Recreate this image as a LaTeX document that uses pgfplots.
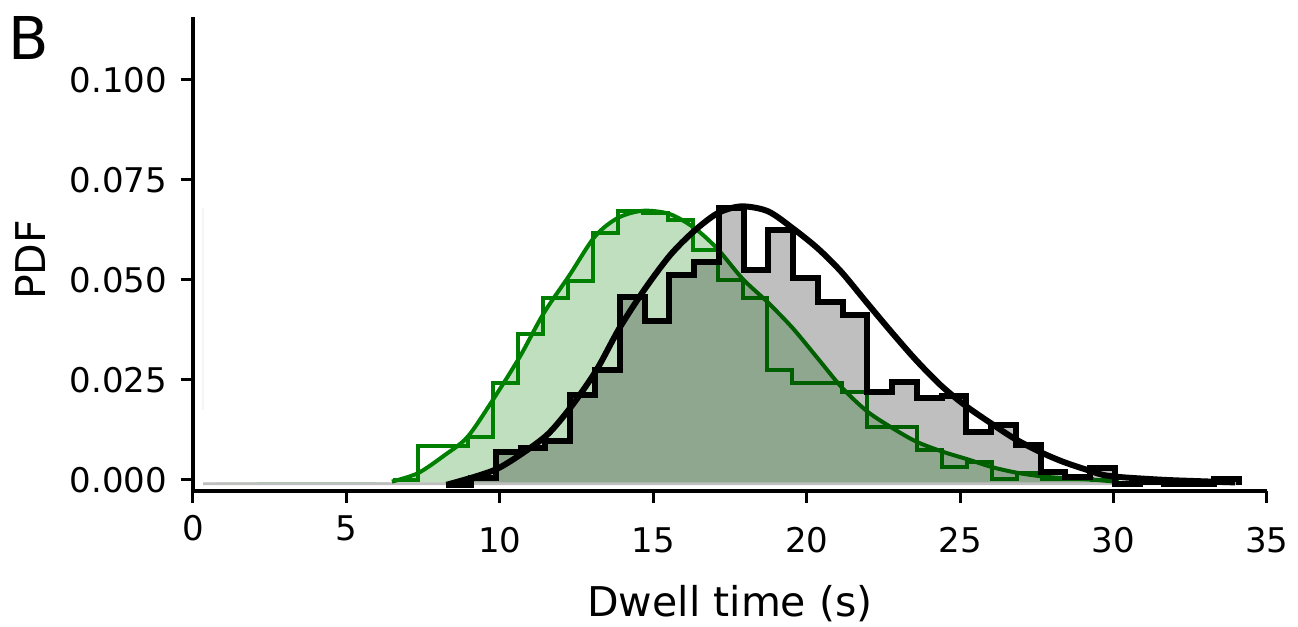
\documentclass[border=0pt]{standalone}
\usepackage{fontspec}
\setmainfont{DejaVu Sans}
\usepackage{pgfplots}
\pgfplotsset{compat=1.18}
\definecolor{mplgreen}{RGB}{0,128,0}
\begin{document}
\begin{tikzpicture}
\useasboundingbox (0pt,0pt) rectangle (649pt,313.5pt);
\begin{axis}[
  at={(96.5pt,68pt)}, anchor=south west,
  scale only axis, width=537pt, height=237pt,
  xmin=0, xmax=35, ymin=-0.00275, ymax=0.11575,
  axis x line=bottom, axis y line=left,
  axis line style={-, line width=1.6pt, black},
  tick align=outside, major tick length=6pt,
  every tick/.style={black, line width=1.5pt},
  xtick={0,5,10,15,20,25,30,35},
  xticklabels={\raisebox{5.85pt}{0},\raisebox{5.85pt}{5},10,15,20,25,30,35},
  ytick={0,0.025,0.05,0.075,0.1},
  yticklabels={0.000,0.025,0.050,0.075,0.100},
  scaled y ticks=false,
  /pgf/number format/assume math mode=true,
  tick label style={font=\fontsize{17}{20}\selectfont},
  xticklabel style={anchor=base, inner sep=0pt, yshift=-24.6pt},
  yticklabel style={anchor=east, inner sep=0pt, xshift=-6.75pt},
  xlabel={Dwell time (s)},
  xlabel style={at={(axis description cs:0.5,-0.238)}, anchor=center, font=\fontsize{20.5}{24}\selectfont},
  ylabel={PDF},
  ylabel style={at={(axis description cs:-0.1508,0.4873)}, anchor=center, font=\fontsize{20.5}{24}\selectfont},
]
% faint artefact line
\addplot[black!4, line width=1pt, forget plot] coordinates {(0.33,0.0175) (0.33,0.068)};
% green fill under fitted curve
\addplot[fill=mplgreen, fill opacity=0.25, draw=none, smooth, tension=0.5] coordinates {
(0.33,-0.0006) (6.48,-0.0006) (7.33,0.0017) (8.20,0.0062) (8.95,0.0108) (9.77,0.0200)
(10.65,0.0308) (11.43,0.0417) (12.27,0.0512) (13.09,0.0608) (13.84,0.0655) (14.65,0.0673)
(15.53,0.0665) (16.34,0.0630) (17.09,0.0578) (17.91,0.0503) (18.72,0.0445) (19.54,0.0380)
(20.35,0.0305) (21.16,0.0230) (21.98,0.0171) (22.79,0.0130) (23.57,0.0096) (24.42,0.0071)
(25.23,0.0052) (26.05,0.0032) (26.86,0.0018) (27.67,0.0009) (28.49,0.0004) (29.30,0.0001)
(30.02,-0.0004) (34.0,-0.0006)};
% green histogram
\addplot[mplgreen, line width=2pt, const plot, line join=miter] coordinates {
(6.512,0.0000) (7.326,0.0086) (8.140,0.0086) (8.954,0.0108) (9.768,0.0242) (10.582,0.0364)
(11.396,0.0454) (12.210,0.0498) (13.024,0.0617) (13.838,0.0673) (14.652,0.0668) (15.466,0.0650)
(16.280,0.0575) (17.094,0.0500) (17.908,0.0454) (18.722,0.0275) (19.536,0.0242) (20.350,0.0242)
(21.164,0.0221) (21.978,0.0133) (22.792,0.0133) (23.606,0.0075) (24.420,0.0033) (25.234,0.0045)
(26.048,0.0003) (26.862,0.0017) (27.676,0.0003) (28.490,0.0002) (29.304,0.0001) (30.118,0.0000)};
% green fitted curve
\addplot[mplgreen, line width=2pt, smooth, tension=0.5] coordinates {
(6.48,-0.0004) (7.33,0.0017) (8.20,0.0062) (8.95,0.0108) (9.77,0.0200)
(10.65,0.0308) (11.43,0.0417) (12.27,0.0512) (13.09,0.0608) (13.84,0.0655) (14.65,0.0673)
(15.53,0.0665) (16.34,0.0630) (17.09,0.0578) (17.91,0.0503) (18.72,0.0445) (19.54,0.0380)
(20.35,0.0305) (21.16,0.0230) (21.98,0.0171) (22.79,0.0130) (23.57,0.0096) (24.42,0.0071)
(25.23,0.0052) (26.05,0.0032) (26.86,0.0018) (27.67,0.0009) (28.49,0.0004) (29.30,0.0001)
(30.02,-0.0004)};
% grey fill under black histogram
\addplot[fill=black, fill opacity=0.25, draw=none, const plot] coordinates {
(0.33,-0.0013) (0.33,-0.0006)
(8.260,-0.0012) (9.067,0.0004) (9.874,0.0069) (10.680,0.0080) (11.487,0.0098) (12.294,0.0212)
(13.101,0.0275) (13.908,0.0458) (14.714,0.0398) (15.521,0.0513) (16.328,0.0546) (17.135,0.0680)
(17.942,0.0526) (18.748,0.0625) (19.555,0.0504) (20.362,0.0446) (21.169,0.0413) (21.976,0.0221)
(22.782,0.0246) (23.589,0.0204) (24.396,0.0210) (25.203,0.0121) (26.010,0.0138) (26.816,0.0088)
(27.623,0.0021) (28.430,0.0008) (29.237,0.0031) (30.044,-0.0010) (30.850,-0.0004) (31.657,-0.0009)
(32.464,-0.0009) (33.271,0.0003) (34.078,-0.0013)};
% black histogram
\addplot[black, line width=3pt, const plot, line join=miter] coordinates {
(8.260,-0.0012) (9.067,0.0004) (9.874,0.0069) (10.680,0.0080) (11.487,0.0098) (12.294,0.0212)
(13.101,0.0275) (13.908,0.0458) (14.714,0.0398) (15.521,0.0513) (16.328,0.0546) (17.135,0.0680)
(17.942,0.0526) (18.748,0.0625) (19.555,0.0504) (20.362,0.0446) (21.169,0.0413) (21.976,0.0221)
(22.782,0.0246) (23.589,0.0204) (24.396,0.0210) (25.203,0.0121) (26.010,0.0138) (26.816,0.0088)
(27.623,0.0021) (28.430,0.0008) (29.237,0.0031) (30.044,-0.0010) (30.850,-0.0004) (31.657,-0.0009)
(32.464,-0.0009) (33.271,0.0003) (34.078,-0.0012)};
% black fitted curve
\addplot[black, line width=3pt, smooth, tension=0.5] coordinates {
(8.26,-0.0012) (9.18,0.0008) (9.94,0.0029) (10.74,0.0067) (11.57,0.0115) (12.34,0.0185)
(13.15,0.0275) (13.90,0.0380) (14.72,0.0477) (15.56,0.0563) (16.34,0.0623) (17.10,0.0667)
(17.86,0.0684) (18.73,0.0672) (19.55,0.0629) (20.36,0.0579) (21.12,0.0521) (21.93,0.0446)
(22.75,0.0371) (23.56,0.0300) (24.38,0.0236) (25.17,0.0186) (26.00,0.0142) (26.76,0.0104)
(27.58,0.0071) (28.34,0.0046) (29.15,0.0025) (29.86,0.0010) (31.48,0.0001) (32.79,-0.0003)
(33.96,-0.0006)};
\end{axis}
\node[font=\fontsize{29.5}{34}\selectfont, anchor=center, inner sep=0pt] at (14.25pt,294.25pt) {B};
\end{tikzpicture}
\end{document}
